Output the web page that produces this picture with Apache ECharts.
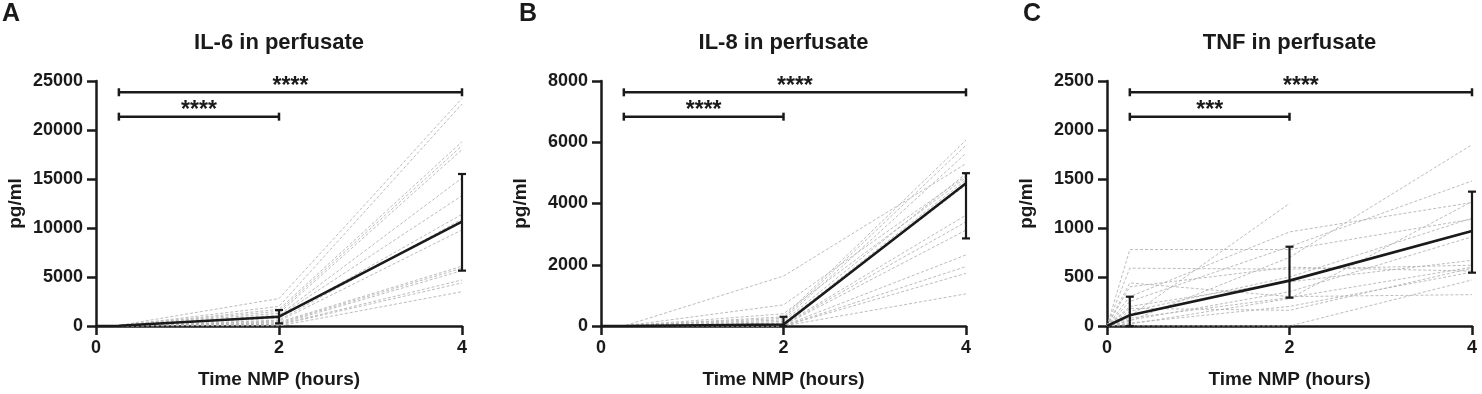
<!DOCTYPE html>
<html>
<head>
<meta charset="utf-8">
<script src="https://cdn.jsdelivr.net/npm/echarts@6/dist/echarts.min.js"></script>
<style>
html, body { margin: 0; padding: 0; background: #fff; }
#chart { width: 1482px; height: 394px; }
</style>
</head>
<body>
<div id="chart"></div>
<script>
// sampling times (hours of NMP)
var times = [0, 0.25, 2, 4];
var xTicks = [0, 2, 4];

// IL-6, one row per donor, values at `times`
var il6Donors = [
    [0, 60, 2800, 23230],
    [0, 40, 2000, 22650],
    [0, 30, 1700, 18800],
    [0, 20, 1500, 18400],
    [0, 20, 1300, 18000],
    [0, 10, 1100, 15100],
    [0, 10, 1000, 13300],
    [0, 10, 800, 11400],
    [0, 0, 600, 10900],
    [0, 0, 500, 9800],
    [0, 0, 400, 6100],
    [0, 0, 300, 5900],
    [0, 0, 200, 5650],
    [0, 0, 150, 4700],
    [0, 0, 100, 4400],
    [0, 0, 0, 3500]
];
var il6Mean = [0, 30, 950, 10650];
var il6ErrTimes = [2, 4];
var il6ErrLow = [270, 5650];
var il6ErrHigh = [1630, 15510];
var il6BrFrom = [0.25, 0.25];
var il6BrTo = [4, 2];
var il6BrY = [23850, 21360];
var il6BrStars = ['****', '****'];

// IL-8
var il8Donors = [
    [0, 0, 1630, 5300],
    [0, 0, 690, 4900],
    [0, 0, 400, 4850],
    [0, 0, 300, 6070],
    [0, 0, 250, 5900],
    [0, 0, 200, 5640],
    [0, 0, 150, 4980],
    [0, 0, 100, 4770],
    [0, 0, 80, 4600],
    [0, 0, 50, 3620],
    [0, 0, 30, 3400],
    [0, 0, 20, 3130],
    [0, 0, 10, 2320],
    [0, 0, 0, 1940],
    [0, 0, 0, 1720],
    [0, 0, 0, 1050]
];
var il8Mean = [0, 0, 50, 4660];
var il8ErrTimes = [2, 4];
var il8ErrLow = [0, 2860];
var il8ErrHigh = [300, 4990];
var il8BrFrom = [0.25, 0.25];
var il8BrTo = [4, 2];
var il8BrY = [7630, 6835];
var il8BrStars = ['****', '****'];

// TNF
var tnfDonors = [
    [0, 780, 780, 1090],
    [0, 590, 580, 620],
    [0, 440, 300, 320],
    [0, 300, 960, 1260],
    [0, 100, 1250, null],
    [0, 50, 700, 1850],
    [0, 250, 810, 1480],
    [0, 150, 500, 1100],
    [0, 200, 450, 670],
    [0, 80, 290, 600],
    [0, 30, 200, 550],
    [0, 0, 0, 470],
    [0, 400, 600, 560],
    [0, 60, 350, 910],
    [0, 180, 160, 590],
    [0, 20, 280, 1270]
];
var tnfMean = [0, 110, 463, 969];
var tnfErrTimes = [0.25, 2, 4];
var tnfErrLow = [0, 289, 544];
var tnfErrHigh = [299, 809, 1371];
var tnfBrFrom = [0.25, 0.25];
var tnfBrTo = [4, 2];
var tnfBrY = [2385, 2135];
var tnfBrStars = ['****', '***'];

var font = 'Liberation Sans, Arial, Helvetica, sans-serif';
var ink = '#1a1a1a';
var gridTop = 81, gridHeight = 245;

var panels = [
    { letter: 'A', letterX: 2, title: 'IL-6 in perfusate', left: 96, width: 366, yMax: 25000, yStep: 5000,
      donors: il6Donors, mean: il6Mean, errT: il6ErrTimes, errLo: il6ErrLow, errHi: il6ErrHigh,
      brFrom: il6BrFrom, brTo: il6BrTo, brY: il6BrY, brStars: il6BrStars },
    { letter: 'B', letterX: 519, title: 'IL-8 in perfusate', left: 601, width: 365, yMax: 8000, yStep: 2000,
      donors: il8Donors, mean: il8Mean, errT: il8ErrTimes, errLo: il8ErrLow, errHi: il8ErrHigh,
      brFrom: il8BrFrom, brTo: il8BrTo, brY: il8BrY, brStars: il8BrStars },
    { letter: 'C', letterX: 1023, title: 'TNF in perfusate', left: 1107, width: 365, yMax: 2500, yStep: 500,
      donors: tnfDonors, mean: tnfMean, errT: tnfErrTimes, errLo: tnfErrLow, errHi: tnfErrHigh,
      brFrom: tnfBrFrom, brTo: tnfBrTo, brY: tnfBrY, brStars: tnfBrStars }
];

function pairs(xs, ys) {
    return xs.map(function (x, i) { return [x, ys[i]]; });
}

function errorBarItem(params, api) {
    var x = api.value(0);
    var lo = api.coord([x, api.value(1)]);
    var hi = api.coord([x, api.value(2)]);
    var s = { stroke: ink, lineWidth: 2.2 };
    return {
        type: 'group',
        children: [
            { type: 'line', shape: { x1: lo[0], y1: lo[1], x2: hi[0], y2: hi[1] }, style: s },
            { type: 'line', shape: { x1: lo[0] - 4, y1: lo[1], x2: lo[0] + 4, y2: lo[1] }, style: s },
            { type: 'line', shape: { x1: hi[0] - 4, y1: hi[1], x2: hi[0] + 4, y2: hi[1] }, style: s }
        ]
    };
}

function bracketRenderer(stars) {
    return function (params, api) {
        var a = api.coord([api.value(0), api.value(2)]);
        var b = api.coord([api.value(1), api.value(2)]);
        var s = { stroke: ink, lineWidth: 2.5 };
        return {
            type: 'group',
            children: [
                { type: 'line', shape: { x1: a[0], y1: a[1], x2: b[0], y2: b[1] }, style: s },
                { type: 'line', shape: { x1: a[0], y1: a[1] - 4, x2: a[0], y2: a[1] + 4 }, style: s },
                { type: 'line', shape: { x1: b[0], y1: b[1] - 4, x2: b[0], y2: b[1] + 4 }, style: s },
                { type: 'text', x: (a[0] + b[0]) / 2, y: a[1] - 6,
                  style: { text: stars[params.dataIndex], fill: ink, font: 'bold 23px ' + font,
                           textAlign: 'center', textVerticalAlign: 'middle' } }
            ]
        };
    };
}

var grids = [], xAxes = [], yAxes = [], series = [], graphics = [];

panels.forEach(function (p, i) {
    grids.push({ left: p.left, top: gridTop, width: p.width, height: gridHeight });

    xAxes.push({
        gridIndex: i, type: 'value', min: 0, max: 4, interval: 2,
        name: 'Time NMP (hours)', nameLocation: 'middle', nameGap: 44,
        nameTextStyle: { color: ink, fontFamily: font, fontWeight: 'bold', fontSize: 19 },
        axisLine: { show: true, lineStyle: { color: ink, width: 2.5 } },
        axisTick: { show: true, length: 9, lineStyle: { color: ink, width: 2.5 } },
        axisLabel: { color: ink, fontFamily: font, fontWeight: 'bold', fontSize: 18, margin: 13,
                     formatter: function (v) { return xTicks.indexOf(v) >= 0 ? String(v) : ''; } },
        splitLine: { show: false }
    });

    yAxes.push({
        gridIndex: i, type: 'value', min: 0, max: p.yMax, interval: p.yStep,
        name: 'pg/ml', nameLocation: 'middle', nameGap: 71,
        nameTextStyle: { color: ink, fontFamily: font, fontWeight: 'bold', fontSize: 19 },
        axisLine: { show: true, lineStyle: { color: ink, width: 2.5 } },
        axisTick: { show: true, length: 9, lineStyle: { color: ink, width: 2.5 } },
        axisLabel: { color: ink, fontFamily: font, fontWeight: 'bold', fontSize: 18, margin: 13,
                     formatter: function (v) { return String(v); } },
        splitLine: { show: false }
    });

    p.donors.forEach(function (vals) {
        series.push({
            type: 'line', xAxisIndex: i, yAxisIndex: i, silent: true, z: 1,
            showSymbol: false, symbol: 'none', connectNulls: false,
            data: pairs(times, vals),
            lineStyle: { color: '#b4b4b4', width: 0.9, type: [3, 2] }
        });
    });

    series.push({
        type: 'line', xAxisIndex: i, yAxisIndex: i, silent: true, z: 5,
        showSymbol: false, symbol: 'none',
        data: pairs(times, p.mean),
        lineStyle: { color: ink, width: 2.6 }
    });

    series.push({
        type: 'custom', xAxisIndex: i, yAxisIndex: i, silent: true, z: 6,
        renderItem: errorBarItem,
        encode: { x: 0, y: [1, 2] },
        data: p.errT.map(function (t, k) { return [t, p.errLo[k], p.errHi[k]]; })
    });

    series.push({
        type: 'custom', xAxisIndex: i, yAxisIndex: i, silent: true, z: 6, clip: false,
        renderItem: bracketRenderer(p.brStars),
        encode: { x: [0, 1], y: 2 },
        data: p.brFrom.map(function (f, k) { return [f, p.brTo[k], p.brY[k]]; })
    });

    graphics.push({
        type: 'text', left: p.letterX, top: 2,
        style: { text: p.letter, fill: ink, font: 'bold 25px ' + font }
    });
    graphics.push({
        type: 'text', x: p.left + p.width / 2, y: 43,
        style: { text: p.title, fill: ink, font: 'bold 22px ' + font,
                 textAlign: 'center', textVerticalAlign: 'middle' }
    });
});

var chart = echarts.init(document.getElementById('chart'));
chart.setOption({
    animation: false,
    backgroundColor: '#fff',
    grid: grids,
    xAxis: xAxes,
    yAxis: yAxes,
    series: series,
    graphic: graphics
});
</script>
</body>
</html>
